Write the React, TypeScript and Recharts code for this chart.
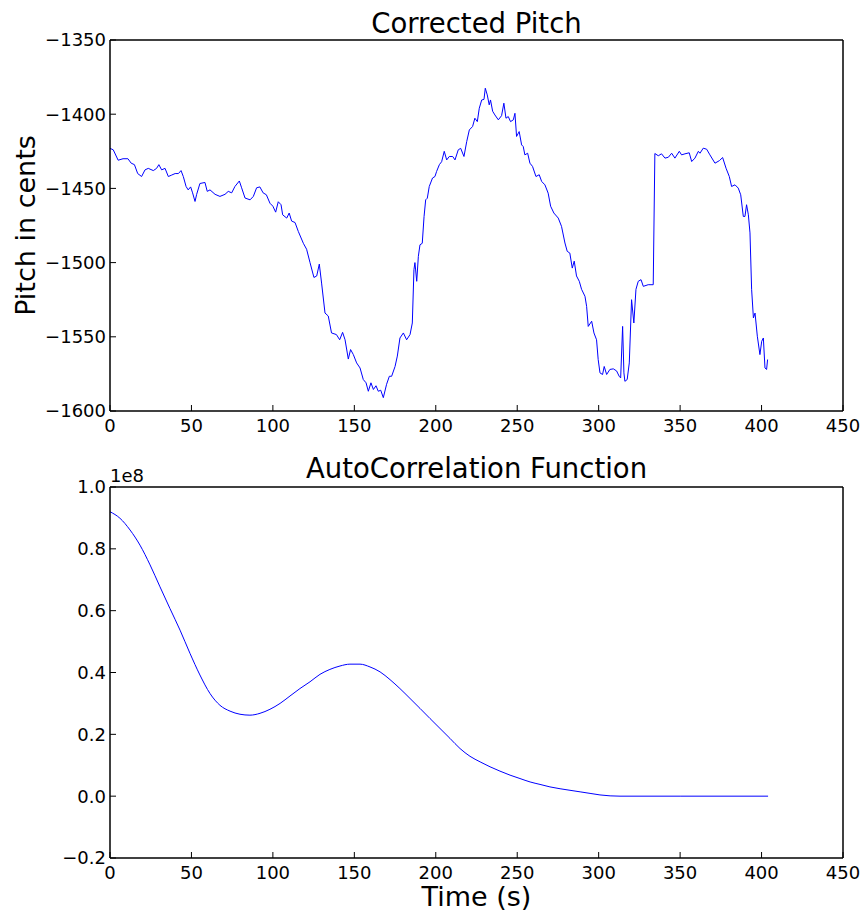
import { LineChart, Line, XAxis, YAxis } from "recharts"

// time (s) and corrected pitch (cents)
const pitchTime = [
  0, 2, 5, 8, 11, 13, 15, 17, 19.4, 21.5, 23.5, 26.6, 28.6, 30, 31.7, 33.8, 35.8, 37.9, 40, 42,
  43.6, 45, 46.7, 48, 49.5, 50.7, 52.2, 53.2, 55.2, 58.3, 59.7, 61.4, 64.5, 67.5, 70.6, 72.6, 74.7,
  76.7, 79.4, 80.8, 82.9, 86, 88, 90, 92, 94, 96, 98.2, 100, 101.7, 103.3, 105, 106, 108.5, 110,
  111.5, 113.6, 115.6, 118.7, 120.7, 122.8, 125.2, 126.9, 128.5, 129.9, 132, 134, 136, 139, 141,
  142.8, 144.3, 146.3, 147.7, 149.4, 151.4, 153.5, 155.5, 157.2, 158.6, 160.2, 161.7, 163.3, 164.7,
  166.2, 167.8, 169.8, 171.5, 172.9, 175, 176.4, 178, 180.1, 182.1, 184.2, 185.6, 186.6, 187.2,
  188.3, 189.3, 190.3, 191.7, 192.8, 193.8, 194.8, 196, 198, 199.5, 200.5, 202.2, 203.6, 205.2,
  206.7, 208.3, 210.4, 211.8, 213.8, 215.3, 217.3, 219, 220.6, 222.6, 224, 225.5, 226.7, 228.2,
  229.6, 230.4, 231.6, 232.8, 233.6, 234.9, 236.3, 238.4, 240.4, 241.8, 243.1, 244.5, 245.9, 247.6,
  248.6, 249.6, 251.2, 252.7, 253.7, 254.7, 256.4, 257.8, 259.4, 261.5, 263.5, 265, 267, 269, 270.5,
  272.5, 275.2, 277.2, 279.3, 280.7, 282.3, 283.8, 285, 286.4, 288.1, 289.5, 291.6, 292.6, 293.6,
  295.7, 297.1, 298.7, 299.7, 300.8, 302.4, 303.4, 304.9, 306.9, 309, 311, 312.6, 313.5, 314.7,
  315.5, 316.1, 317.5, 318.8, 320.2, 321.6, 322.9, 324.3, 326, 327.4, 330.4, 333.5, 334.5, 336.6,
  338.6, 340.7, 342.8, 344.8, 346.8, 349.5, 350.9, 353, 355.6, 357.1, 359.1, 361.2, 362.2, 364.2,
  366.3, 368.3, 371.4, 374.1, 376.1, 378.2, 380.2, 381.6, 383.7, 385.7, 387.2, 388.8, 389.8, 390.8,
  391.9, 392.9, 393.9, 395, 396, 397.4, 399, 400.1, 401.1, 402.1, 403.1, 403.7,
]
const pitchCents = [
  -1423, -1424, -1431, -1430, -1430, -1433, -1434, -1440, -1442, -1437.5, -1436.5, -1438, -1436.5,
  -1434, -1437.5, -1436.5, -1442, -1441, -1440, -1440, -1438, -1442, -1448.7, -1451, -1449, -1453,
  -1458.8, -1454, -1446.7, -1446, -1452, -1451, -1454, -1455.4, -1454, -1452, -1453, -1448.7, -1445,
  -1449.6, -1456.5, -1457.7, -1455.4, -1449.6, -1449, -1453, -1454.3, -1460, -1462, -1466, -1459,
  -1461, -1467.8, -1470, -1466.6, -1472, -1473, -1479, -1487, -1491, -1500, -1510, -1509, -1501,
  -1513.8, -1534, -1536, -1547.4, -1548.5, -1552, -1547, -1552, -1565, -1558.6, -1562, -1567.6,
  -1571, -1578.8, -1581, -1586.7, -1581, -1585.5, -1583, -1586.7, -1586, -1591, -1582, -1576.6,
  -1576.6, -1570, -1563, -1550.8, -1547.4, -1552, -1548.5, -1540.7, -1504.8, -1500, -1512.6,
  -1495.8, -1488, -1487, -1469, -1457.7, -1456.6, -1448.7, -1443, -1442, -1438.6, -1434, -1432,
  -1425, -1430.8, -1428.5, -1428.5, -1430.8, -1424, -1423, -1428.5, -1418.4, -1410.6, -1408.3,
  -1402.7, -1405, -1396, -1390.4, -1390, -1382.5, -1387, -1393.7, -1390.4, -1398, -1400.5, -1403.8,
  -1401, -1392.6, -1402.7, -1401.6, -1405, -1403.8, -1399.4, -1415, -1411.7, -1420.7, -1421.8,
  -1427.4, -1426.3, -1433, -1435.2, -1442, -1440.8, -1445.3, -1447.6, -1453.2, -1462, -1466.6,
  -1470, -1475.6, -1486.8, -1492.4, -1493.6, -1503.7, -1499, -1509, -1512.6, -1518, -1522.7,
  -1529.5, -1543, -1539.5, -1547.4, -1552, -1565.3, -1574.3, -1575.4, -1570, -1575.4, -1572,
  -1571.6, -1573, -1576.6, -1577.7, -1543, -1574.3, -1580, -1578.8, -1567.6, -1525, -1540.7, -1518,
  -1512.6, -1511.5, -1516, -1514.9, -1514.9, -1426.5, -1428, -1426.7, -1429.6, -1429, -1426.3,
  -1429.6, -1425, -1427.4, -1426.7, -1426, -1431.9, -1429.6, -1425, -1426.3, -1422.9, -1423.6,
  -1427.4, -1433, -1431.3, -1429.2, -1436.4, -1442, -1448.7, -1447.6, -1449.8, -1454.3, -1468.9,
  -1468.9, -1461, -1467.8, -1480, -1518, -1537.3, -1534, -1549.6, -1562, -1553, -1550.8, -1571,
  -1572, -1565.3,
]

// autocorrelation, in units of 1e8
const acfTime = [
  0, 6.1, 12.3, 18.4, 24.6, 30.7, 36.8, 43, 49.1, 55.2, 61.4, 67.5, 73.7, 79.8, 85.9, 92.1, 98.2,
  104.4, 110.5, 116.6, 122.8, 128.9, 135, 141.2, 147.3, 153.5, 159.6, 165.8, 171.9, 178, 184.2,
  190.3, 196.5, 202.6, 208.7, 214.9, 221, 227.2, 233.3, 239.4, 245.6, 251.7, 257.9, 264, 270.1,
  276.3, 282.4, 288.6, 294.7, 300.8, 307, 313.1, 350, 404,
]
const acfValue = [
  0.92, 0.899, 0.861, 0.812, 0.748, 0.677, 0.607, 0.537, 0.462, 0.392, 0.332, 0.294, 0.275, 0.265,
  0.262, 0.268, 0.281, 0.3, 0.324, 0.348, 0.37, 0.394, 0.41, 0.421, 0.427, 0.427, 0.418, 0.402,
  0.377, 0.348, 0.316, 0.284, 0.251, 0.219, 0.187, 0.154, 0.129, 0.111, 0.095, 0.081, 0.068, 0.057,
  0.046, 0.038, 0.03, 0.024, 0.019, 0.014, 0.009, 0.004, 0.001, 0, 0, 0,
]

const timeTicks = [0, 50, 100, 150, 200, 250, 300, 350, 400, 450]
const pitchTicks = [-1600, -1550, -1500, -1450, -1400, -1350]
const acfTicks = [-0.2, 0, 0.2, 0.4, 0.6, 0.8, 1.0]

const pitchData = pitchTime.map((t, i) => ({ t, v: pitchCents[i] }))
const acfData = acfTime.map((t, i) => ({ t, v: acfValue[i] }))

const FONT = "DejaVu Sans, sans-serif"
const tickStyle = { fill: "#000", fontSize: 18, fontFamily: FONT }
const axisLine = { stroke: "#000", strokeWidth: 1.5 }
const tickLine = { stroke: "#000", strokeWidth: 1 }
const minus = (s: string) => s.replace("-", "\u2212")

function Panel({ data, yTicks, yDomain, fmt, top, height, margin, curve }: any) {
  return (
    <div style={{ position: "absolute", left: 0, top, width: 866, height }}>
      <LineChart width={866} height={height} data={data} margin={margin}>
        <XAxis
          xAxisId="b" dataKey="t" type="number" domain={[0, 450]} ticks={timeTicks}
          allowDataOverflow height={30} tickSize={-6} tickMargin={14}
          tick={tickStyle} axisLine={axisLine} tickLine={tickLine} interval={0}
        />
        <XAxis
          xAxisId="tp" orientation="top" dataKey="t" type="number" domain={[0, 450]} ticks={timeTicks}
          allowDataOverflow height={10} tickSize={-6} tick={false} axisLine={axisLine} tickLine={tickLine}
        />
        <YAxis
          yAxisId="l" type="number" domain={yDomain} ticks={yTicks} allowDataOverflow width={100}
          tickSize={-6} tickMargin={10} tick={tickStyle} tickFormatter={fmt}
          axisLine={axisLine} tickLine={tickLine} interval={0}
        />
        <YAxis
          yAxisId="r" orientation="right" type="number" domain={yDomain} ticks={yTicks} allowDataOverflow
          width={10} tickSize={-6} tick={false} axisLine={axisLine} tickLine={tickLine}
        />
        <Line
          xAxisId="b" yAxisId="l" type={curve} dataKey="v" stroke="#0000ff" strokeWidth={1}
          dot={false} isAnimationActive={false}
        />
      </LineChart>
    </div>
  )
}

export default function App() {
  return (
    <div style={{ position: "absolute", left: 0, top: 0, width: 866, height: 920, background: "#fff" }}>
      <Panel
        data={pitchData} yTicks={pitchTicks} yDomain={[-1600, -1350]} top={0} height={450}
        fmt={(v: number) => minus(String(v))} curve="linear"
        margin={{ top: 30, right: 13, bottom: 9, left: 10 }}
      />
      <Panel
        data={acfData} yTicks={acfTicks} yDomain={[-0.2, 1.0]} top={450} height={470}
        fmt={(v: number) => minus(v.toFixed(1))} curve="monotone"
        margin={{ top: 27, right: 13, bottom: 32, left: 10 }}
      />
      <svg width={866} height={920} style={{ position: "absolute", left: 0, top: 0, pointerEvents: "none" }}>
        <g fontFamily={FONT} fill="#000">
          <text x={476.5} y={33} fontSize={27.5} textAnchor="middle">Corrected Pitch</text>
          <text x={476.5} y={478} fontSize={27.5} textAnchor="middle">AutoCorrelation Function</text>
          <text x={110} y={482} fontSize={18}>1e8</text>
          <text x={476.5} y={906} fontSize={27} textAnchor="middle">Time (s)</text>
          <text x={35} y={225.5} fontSize={27} textAnchor="middle" transform="rotate(-90 35 225.5)">
            Pitch in cents
          </text>
        </g>
      </svg>
    </div>
  )
}
